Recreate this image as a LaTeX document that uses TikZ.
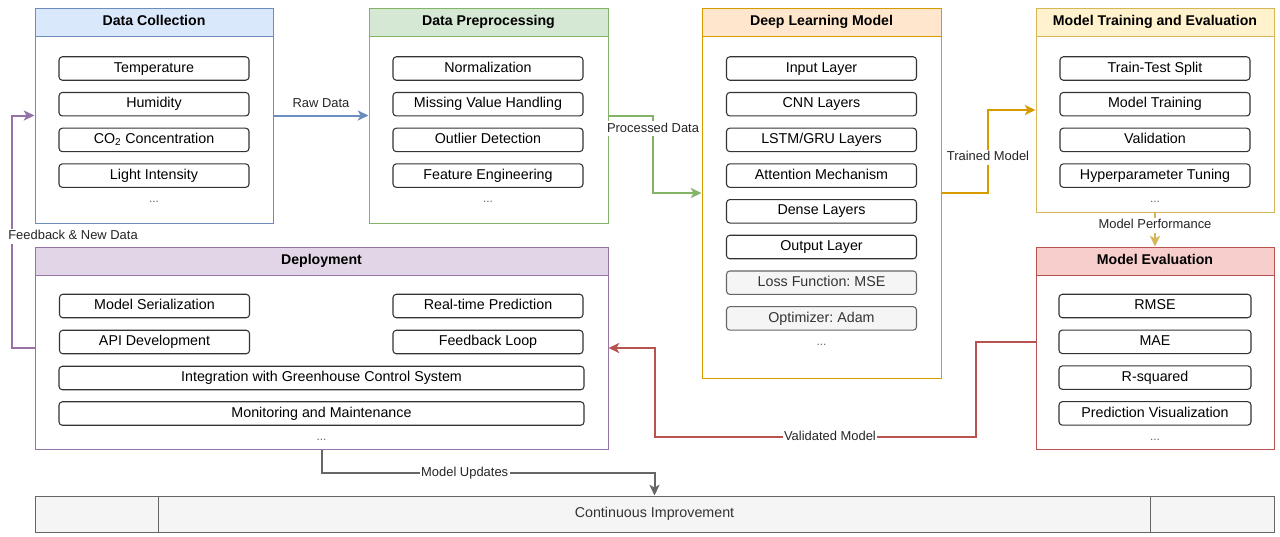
\documentclass[tikz,border=0pt]{standalone}
\usepackage{fontspec}
\setmainfont{Liberation Sans}
\usetikzlibrary{arrows.meta,positioning}
\frenchspacing

\definecolor{dcline}{HTML}{6C8EBF}\definecolor{dcfill}{HTML}{DAE8FC}
\definecolor{dpline}{HTML}{82B366}\definecolor{dpfill}{HTML}{D5E8D4}
\definecolor{dlline}{HTML}{D79B00}\definecolor{dlfill}{HTML}{FFE6CC}
\definecolor{mtline}{HTML}{D6B656}\definecolor{mtfill}{HTML}{FFF2CC}
\definecolor{meline}{HTML}{B85450}\definecolor{mefill}{HTML}{F8CECC}
\definecolor{deline}{HTML}{9673A6}\definecolor{defill}{HTML}{E1D5E7}
\definecolor{ciline}{HTML}{666666}\definecolor{cifill}{HTML}{F5F5F5}
\definecolor{citext}{HTML}{333333}

\tikzset{
  panel/.style={draw=#1, fill=white, line width=0.75pt, inner sep=0pt},
  panelhead/.style 2 args={draw=#1, fill=#2, line width=0.75pt, anchor=north, minimum height=21pt, inner sep=0pt, text height=7.8pt, text depth=2.2pt, font=\fontsize{10.6}{12}\selectfont\bfseries},
  item/.style={draw=black!80, fill=white, rounded corners=2.5pt, line width=0.8pt, minimum height=17.6pt, minimum width=142.5pt, inner sep=0pt, text height=7.8pt, text depth=2.4pt, font=\fontsize{10.7}{12}\selectfont},
  graybox/.style={item, draw=ciline, fill=cifill, text=citext},
  flow/.style={line width=1.5pt, -{Stealth[length=8pt,width=7.5pt,inset=2pt]}},
  lbl/.style={fill=white, inner sep=1pt, text=black!85, text height=7pt, text depth=2pt, font=\fontsize{9.7}{11}\selectfont},
  dots/.style={text=black!60, font=\fontsize{9}{10}\selectfont},
}

\begin{document}
\begin{tikzpicture}[x=0.75pt,y=-0.75pt]
\useasboundingbox (0,0) rectangle (1280,536);

% data collection
\node[panel=dcline, minimum width=178.5pt, minimum height=161.25pt] (dc) at (154,115.5) {};
\node[panelhead={dcline}{dcfill}, minimum width=178.5pt] (dchead) at (dc.north) {Data Collection};
\foreach \txt [count=\i] in {Temperature, Humidity, CO\textsubscript{2} Concentration, Light Intensity}
  \node[item] (dc\i) at (154,{68.5+35.7*(\i-1)}) {\txt};
\node[dots] (dcdots) at (154,202) {...};

% data preprocessing
\node[panel=dpline, minimum width=179.25pt, minimum height=161.25pt] (dp) at (488.5,115.5) {};
\node[panelhead={dpline}{dpfill}, minimum width=179.25pt] (dphead) at (dp.north) {Data Preprocessing};
\foreach \txt [count=\i] in {Normalization, Missing Value Handling, Outlier Detection, Feature Engineering}
  \node[item] (dp\i) at (488,{68.5+35.7*(\i-1)}) {\txt};
\node[dots] (dpdots) at (488,202) {...};

% deep learning model
\node[panel=dlline, minimum width=179.25pt, minimum height=277.5pt] (dl) at (821.5,193) {};
\node[panelhead={dlline}{dlfill}, minimum width=179.25pt] (dlhead) at (dl.north) {Deep Learning Model};
\foreach \txt [count=\i] in {Input Layer, CNN Layers, LSTM/GRU Layers, Attention Mechanism, Dense Layers, Output Layer}
  \node[item] (dl\i) at (821.5,{68.5+35.7*(\i-1)}) {\txt};
\node[graybox] (dlloss) at (821.5,282.7) {Loss Function: MSE};
\node[graybox] (dlopt) at (821.5,318.4) {Optimizer: Adam};
\node[dots] (dldots) at (821.5,345) {...};

% model training and evaluation
\node[panel=mtline, minimum width=178.5pt, minimum height=153pt] (mt) at (1155,110) {};
\node[panelhead={mtline}{mtfill}, minimum width=178.5pt] (mthead) at (mt.north) {Model Training and Evaluation};
\foreach \txt [count=\i] in {Train-Test Split, Model Training, Validation, Hyperparameter Tuning}
  \node[item] (mt\i) at (1155,{68.5+35.7*(\i-1)}) {\txt};
\node[dots] (mtdots) at (1155,202) {...};

% model evaluation
\node[panel=meline, minimum width=178.5pt, minimum height=151.5pt] (me) at (1155,348) {};
\node[panelhead={meline}{mefill}, minimum width=178.5pt] (mehead) at (me.north) {Model Evaluation};
\foreach \txt [count=\i] in {RMSE, MAE, R-squared, Prediction Visualization}
  \node[item, minimum width=144pt] (me\i) at (1155,{306+35.8*(\i-1)}) {\txt};
\node[dots] (medots) at (1155,440) {...};

% deployment
\node[panel=deline, minimum width=429.75pt, minimum height=151.5pt] (dep) at (321.5,348) {};
\node[panelhead={deline}{defill}, minimum width=429.75pt] (dephead) at (dep.north) {Deployment};
\node[item] (dep1) at (154.5,306) {Model Serialization};
\node[item] (dep2) at (488,306) {Real-time Prediction};
\node[item] (dep3) at (154.5,342) {API Development};
\node[item] (dep4) at (488,342) {Feedback Loop};
\node[item, minimum width=393.75pt] (dep5) at (321.5,378) {Integration with Greenhouse Control System};
\node[item, minimum width=393.75pt] (dep6) at (321.5,413.5) {Monitoring and Maintenance};
\node[dots] (depdots) at (321.5,440) {...};

% continuous improvement
\node[draw=ciline, fill=cifill, text=citext, line width=0.75pt, minimum width=929.25pt, minimum height=27pt, inner sep=0pt, text height=7.8pt, text depth=2.2pt, font=\fontsize{10.7}{12}\selectfont] (ci) at (654.5,514) {Continuous Improvement};
\draw[ciline, line width=0.75pt] ([xshift=93pt]ci.north west) -- ([xshift=93pt]ci.south west);
\draw[ciline, line width=0.75pt] ([xshift=-93pt]ci.north east) -- ([xshift=-93pt]ci.south east);

% connectors
\draw[flow, dcline] (dc.east) -- node[lbl, above=2pt, fill=none]{Raw Data} (dp.west);
\draw[flow, dpline] (dp.east) -- (653,115.5) -- node[lbl, pos=0.17]{Processed Data} (653,193) -- (dl.west);
\draw[flow, dlline] (dl.east) -- (988,193) -- node[lbl, pos=0.43]{Trained Model} (988,110) -- (mt.west);
\draw[flow, mtline] (mt.south) -- node[lbl, pos=0.38]{Model Performance} (me.north);
\draw[flow, meline] ([yshift=4.5pt]me.west) -- (976,342) -- (976,437) -- node[lbl, pos=0.455]{Validated Model} (655,437) -- (655,348) -- (dep.east);
\draw[flow, deline] (dep.west) -- (12,348) -- node[lbl, pos=0.48, anchor=west, xshift=-4.5pt]{Feedback \& New Data} (12,115.5) -- (dc.west);
\draw[flow, ciline] (dep.south) -- (321.5,473) -- node[lbl, pos=0.43]{Model Updates} (654.5,473) -- (ci.north);
\end{tikzpicture}
\end{document}
